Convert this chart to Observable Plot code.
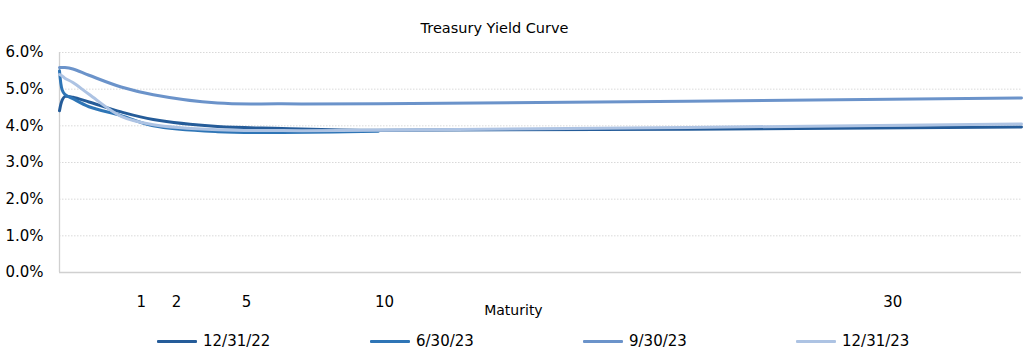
<!DOCTYPE html>
<html><head><meta charset="utf-8">
<script src="https://cdn.jsdelivr.net/npm/d3@7"></script>
<script src="https://cdn.jsdelivr.net/npm/@observablehq/plot@0.6"></script>
<style>
body{margin:0;background:#fff;font-family:"DejaVu Sans",sans-serif;}
#legend{position:relative;height:35px;width:1026px;}
.item{position:absolute;top:6px;height:20px;display:flex;align-items:center;font-size:15px;color:#000;white-space:nowrap;}
.sw{width:40px;height:3px;margin-right:6px;border-radius:1px;}
</style></head><body>
<div id="chart"></div><div id="legend"></div>
<script>
const maturities = [1/12, 2/12, 3/12, 6/12, 1, 2, 3, 5, 7, 10, 30];
const seriesNames = ["12/31/22", "6/30/23", "9/30/23", "12/31/23"];
const y_12_31_22 = [4.41, 4.70, 4.80, 4.78, 4.65, 4.38, 4.17, 3.98, 3.93, 3.88, 3.97];
const y_6_30_23  = [5.50, 4.98, 4.86, 4.74, 4.52, 4.28, 4.00, 3.84, 3.82, 3.85];
const y_9_30_23  = [5.59, 5.59, 5.59, 5.55, 5.38, 5.06, 4.85, 4.62, 4.60, 4.60, 4.76];
const y_12_31_23 = [5.40, 5.36, 5.30, 5.18, 4.86, 4.26, 4.03, 3.89, 3.87, 3.88, 4.05];
const colors = ["#255c99", "#2e75b6", "#6b93ca", "#adc3e3"];
const tickLabels = ["1", "2", "5", "10", "30"];
const tickAt = [2.63, 3.72, 5.90, 10.19, 26.0];
const yTicks = [0, 1, 2, 3, 4, 5, 6];

const allSeries = [y_12_31_22, y_6_30_23, y_9_30_23, y_12_31_23];
const rows = [];
allSeries.forEach((vals, s) => vals.forEach((v, i) => rows.push({series: seriesNames[s], m: maturities[i], v})));

const chart = Plot.plot({
  width: 1026, height: 325,
  marginTop: 52, marginBottom: 53, marginLeft: 59, marginRight: 5,
  style: {fontFamily: "DejaVu Sans", fontSize: "15px", color: "#000", background: "#fff"},
  x: {domain: [1/12, 30], axis: null},
  y: {domain: [0, 6], axis: null},
  color: {domain: seriesNames, range: colors},
  marks: [
    Plot.gridY(yTicks.slice(1), {stroke: "#d9d9d9", strokeOpacity: 1, strokeDasharray: "1.5,1.5"}),
    Plot.axisY(yTicks, {tickSize: 0, tickPadding: 16, tickFormat: d => d.toFixed(1) + "%", fontSize: 15, label: null}),
    Plot.ruleY([0], {stroke: "#d0d0d0", strokeWidth: 1.3}),
    Plot.ruleX([1/12], {stroke: "#d0d0d0", strokeWidth: 1.3}),
    Plot.line(rows, {x: "m", y: "v", z: "series", stroke: "series", strokeWidth: 3, curve: "catmull-rom"}),
    Plot.text(tickLabels, {x: (d, i) => tickAt[i], frameAnchor: "bottom", lineAnchor: "middle", dy: 30, text: d => d, fontSize: 15}),
    Plot.text(["Maturity"], {x: [14.2], frameAnchor: "bottom", lineAnchor: "middle", dy: 38, text: d => d, fontSize: 14}),
    Plot.text(["Treasury Yield Curve"], {frameAnchor: "top", lineAnchor: "middle", dy: -24, dx: -46, text: d => d, fontSize: 14.5})
  ]
});
document.getElementById("chart").appendChild(chart);

const legend = document.getElementById("legend");
seriesNames.forEach((name, i) => {
  const it = document.createElement("div");
  it.className = "item";
  it.style.left = (157 + i * 213) + "px";
  const sw = document.createElement("div");
  sw.className = "sw";
  sw.style.background = colors[i];
  const tx = document.createElement("span");
  tx.textContent = name;
  it.appendChild(sw); it.appendChild(tx);
  legend.appendChild(it);
});
</script>
</body></html>
